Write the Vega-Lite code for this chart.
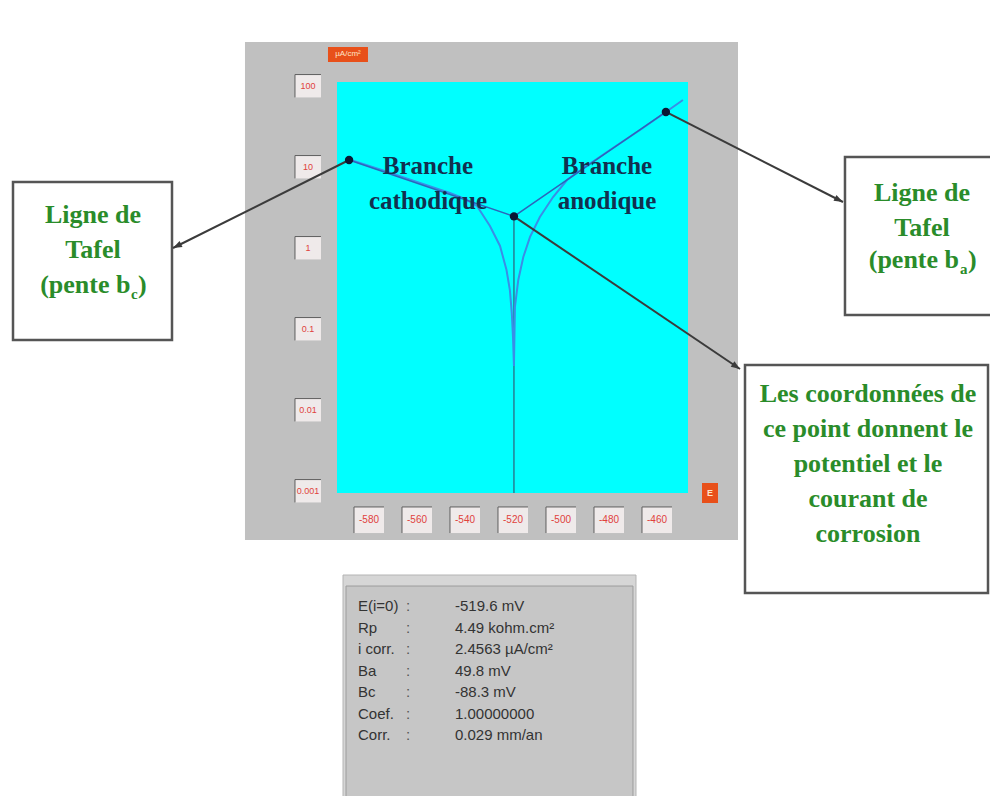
{
  "$schema": "https://vega.github.io/schema/vega-lite/v6.json",
  "width": 351,
  "height": 411,
  "autosize": {"type": "none"},
  "padding": {"left": 337, "top": 82, "right": 302, "bottom": 303},
  "background": "white",
  "config": {"view": {"stroke": null}, "axis": {"disable": true}, "font": "Liberation Sans"},
  "datasets": {
    "polarisation": [
      {"branche": "cathodique", "E": -589.0, "i": 12.6},
      {"branche": "cathodique", "E": -575.4, "i": 9.31},
      {"branche": "cathodique", "E": -558.8, "i": 6.35},
      {"branche": "cathodique", "E": -546.3, "i": 4.78},
      {"branche": "cathodique", "E": -540.0, "i": 4.03},
      {"branche": "cathodique", "E": -535.0, "i": 3.30},
      {"branche": "cathodique", "E": -529.6, "i": 1.87},
      {"branche": "cathodique", "E": -525.4, "i": 1.06},
      {"branche": "cathodique", "E": -522.7, "i": 0.535},
      {"branche": "cathodique", "E": -521.3, "i": 0.303},
      {"branche": "cathodique", "E": -520.5, "i": 0.158},
      {"branche": "cathodique", "E": -520.0, "i": 0.080},
      {"branche": "cathodique", "E": -519.6, "i": 0.035},
      {"branche": "anodique", "E": -519.2, "i": 0.187},
      {"branche": "anodique", "E": -517.8, "i": 0.403},
      {"branche": "anodique", "E": -515.7, "i": 0.774},
      {"branche": "anodique", "E": -512.9, "i": 1.37},
      {"branche": "anodique", "E": -508.8, "i": 2.41},
      {"branche": "anodique", "E": -503.3, "i": 4.26},
      {"branche": "anodique", "E": -497.5, "i": 6.91},
      {"branche": "anodique", "E": -490.0, "i": 10.0},
      {"branche": "anodique", "E": -479.6, "i": 16.2},
      {"branche": "anodique", "E": -467.1, "i": 28.6},
      {"branche": "anodique", "E": -456.3, "i": 47.8},
      {"branche": "anodique", "E": -449.2, "i": 67.2}
    ],
    "tafel": [
      {"point": "cathodique", "E": -588.3, "i": 12.2},
      {"point": "corrosion", "E": -519.6, "i": 2.4563},
      {"point": "anodique", "E": -456.3, "i": 47.8}
    ],
    "ticksE": [
      {"E": -580, "label": "-580"},
      {"E": -560, "label": "-560"},
      {"E": -540, "label": "-540"},
      {"E": -520, "label": "-520"},
      {"E": -500, "label": "-500"},
      {"E": -480, "label": "-480"},
      {"E": -460, "label": "-460"}
    ],
    "ticksI": [
      {"i": 100, "label": "100"},
      {"i": 10, "label": "10"},
      {"i": 1, "label": "1"},
      {"i": 0.1, "label": "0.1"},
      {"i": 0.01, "label": "0.01"},
      {"i": 0.001, "label": "0.001"}
    ]
  },
  "layer": [
    {
      "data": {"values": [{}]},
      "layer": [
        {
          "mark": {"type": "rect", "fill": "#c0c0c0", "clip": false},
          "encoding": {
            "x": {"datum": -631.67, "type": "quantitative", "scale": {"type": "linear", "domain": [-593.33, -447.08], "nice": false, "zero": false}, "axis": null},
            "x2": {"datum": -426.25},
            "y": {"datum": 349.4, "type": "quantitative", "scale": {"type": "log", "domain": [0.000945, 112], "nice": false}, "axis": null},
            "y2": {"datum": 0.00024837}
          }
        },
        {
          "mark": {"type": "rect", "fill": "#00ffff", "clip": false},
          "encoding": {"x": {"datum": -593.33}, "x2": {"datum": -447.08}, "y": {"datum": 112}, "y2": {"datum": 0.000945}}
        },
        {
          "mark": {"type": "rect", "fill": "#d6d6d6", "stroke": "#b4b4b4", "strokeWidth": 1, "clip": false},
          "encoding": {"x": {"datum": -590.83}, "x2": {"datum": -468.75}, "y": {"datum": 9.183e-5}, "y2": {"datum": 1.532e-7}}
        },
        {
          "mark": {"type": "rect", "fill": "#c6c6c6", "stroke": "#9c9c9c", "strokeWidth": 1, "clip": false},
          "encoding": {"x": {"datum": -589.58}, "x2": {"datum": -470.0}, "y": {"datum": 6.7163e-5}, "y2": {"datum": 1.532e-7}}
        },
        {
          "mark": {"type": "rect", "fill": "white", "stroke": "#555555", "strokeWidth": 2.5, "clip": false},
          "encoding": {"x": {"datum": -728.33}, "x2": {"datum": -662.08}, "y": {"datum": 6.529}, "y2": {"datum": 0.07313}}
        },
        {
          "mark": {"type": "rect", "fill": "white", "stroke": "#555555", "strokeWidth": 2.5, "clip": false},
          "encoding": {"x": {"datum": -381.67}, "x2": {"datum": -317.08}, "y": {"datum": 13.288}, "y2": {"datum": 0.14891}}
        },
        {
          "mark": {"type": "rect", "fill": "white", "stroke": "#555555", "strokeWidth": 2.5, "clip": false},
          "encoding": {"x": {"datum": -423.33}, "x2": {"datum": -322.08}, "y": {"datum": 0.03594}, "y2": {"datum": 5.503e-5}}
        },
        {
          "mark": {"type": "point", "shape": "M-1,-0.375H1V0.375H-1Z", "size": 1600, "filled": true, "color": "#e8501a", "opacity": 1, "clip": false},
          "encoding": {"x": {"datum": -588.75}, "y": {"datum": 244.8}}
        },
        {
          "mark": {"type": "point", "shape": "M-1,-1.25H1V1.25H-1Z", "size": 256, "filled": true, "color": "#e8501a", "opacity": 1, "clip": false},
          "encoding": {"x": {"datum": -437.92}, "y": {"datum": 0.000945}}
        }
      ]
    },
    {
      "data": {"name": "ticksE"},
      "layer": [
        {
          "mark": {"type": "point", "shape": "M-1,-0.87H1V0.87H-1Z", "size": 900, "filled": true, "color": "#efeaea", "opacity": 1, "clip": false},
          "encoding": {"x": {"field": "E", "type": "quantitative"}, "y": {"datum": 0.00043853}}
        },
        {
          "mark": {"type": "point", "shape": "M-1,0.87V-0.87H1", "size": 900, "filled": false, "color": "#5f5f5f", "strokeWidth": 1, "opacity": 1, "clip": false},
          "encoding": {"x": {"field": "E", "type": "quantitative"}, "y": {"datum": 0.00043853}}
        },
        {
          "mark": {"type": "text", "fontSize": 10, "color": "#e0413c", "align": "center", "baseline": "middle", "clip": false},
          "encoding": {"x": {"field": "E", "type": "quantitative"}, "y": {"datum": 0.00043853}, "text": {"field": "label"}}
        }
      ]
    },
    {
      "data": {"name": "ticksI"},
      "layer": [
        {
          "mark": {"type": "point", "shape": "M-1,-0.88H1V0.88H-1Z", "size": 676, "filled": true, "color": "#efeaea", "opacity": 1, "clip": false},
          "encoding": {"x": {"datum": -605.42}, "y": {"field": "i", "type": "quantitative"}}
        },
        {
          "mark": {"type": "point", "shape": "M-1,0.88V-0.88H1", "size": 676, "filled": false, "color": "#5f5f5f", "strokeWidth": 1, "opacity": 1, "clip": false},
          "encoding": {"x": {"datum": -605.42}, "y": {"field": "i", "type": "quantitative"}}
        },
        {
          "mark": {"type": "text", "fontSize": 9, "color": "#e0413c", "align": "center", "baseline": "middle", "clip": false},
          "encoding": {"x": {"datum": -605.42}, "y": {"field": "i", "type": "quantitative"}, "text": {"field": "label"}}
        }
      ]
    },
    {
      "data": {"name": "tafel"},
      "transform": [{"filter": "datum.point === 'corrosion'"}],
      "mark": {"type": "rule", "color": "#2f5f78", "strokeWidth": 1.2, "clip": false},
      "encoding": {"x": {"field": "E", "type": "quantitative"}, "y": {"field": "i", "type": "quantitative"}, "y2": {"datum": 0.000945}}
    },
    {
      "data": {"name": "polarisation"},
      "mark": {"type": "line", "color": "#3a8ee6", "strokeWidth": 2, "clip": false},
      "encoding": {
        "x": {"field": "E", "type": "quantitative", "scale": {"type": "linear", "domain": [-593.33, -447.08], "nice": false, "zero": false}, "axis": null},
        "y": {"field": "i", "type": "quantitative", "scale": {"type": "log", "domain": [0.000945, 112], "nice": false}, "axis": null}
      }
    },
    {
      "data": {"name": "tafel"},
      "mark": {"type": "line", "color": "#2c66bb", "strokeWidth": 1.5, "clip": false},
      "encoding": {"x": {"field": "E", "type": "quantitative"}, "y": {"field": "i", "type": "quantitative"}}
    },
    {
      "data": {"values": [{}]},
      "layer": [
        {
          "mark": {"type": "rule", "color": "#3b3b3b", "strokeWidth": 2, "clip": false},
          "encoding": {"x": {"datum": -588.3}, "y": {"datum": 12.2}, "x2": {"datum": -661.67}, "y2": {"datum": 1.0}}
        },
        {
          "mark": {"type": "rule", "color": "#3b3b3b", "strokeWidth": 2, "clip": false},
          "encoding": {"x": {"datum": -456.3}, "y": {"datum": 47.8}, "x2": {"datum": -382.5}, "y2": {"datum": 3.6978}}
        },
        {
          "mark": {"type": "rule", "color": "#3b3b3b", "strokeWidth": 2, "clip": false},
          "encoding": {"x": {"datum": -519.6}, "y": {"datum": 2.4563}, "x2": {"datum": -425.42}, "y2": {"datum": 0.03208}}
        },
        {
          "mark": {"type": "point", "shape": "M0,0L-0.55,1.5L0.55,1.5Z", "size": 144, "filled": true, "color": "#3b3b3b", "opacity": 1, "angle": 243.4, "clip": false},
          "encoding": {"x": {"datum": -661.67}, "y": {"datum": 1.0}}
        },
        {
          "mark": {"type": "point", "shape": "M0,0L-0.55,1.5L0.55,1.5Z", "size": 144, "filled": true, "color": "#3b3b3b", "opacity": 1, "angle": 117, "clip": false},
          "encoding": {"x": {"datum": -382.5}, "y": {"datum": 3.6978}}
        },
        {
          "mark": {"type": "point", "shape": "M0,0L-0.55,1.5L0.55,1.5Z", "size": 144, "filled": true, "color": "#3b3b3b", "opacity": 1, "angle": 124.4, "clip": false},
          "encoding": {"x": {"datum": -425.42}, "y": {"datum": 0.03208}}
        },
        {
          "mark": {"type": "text", "text": ["Branche", "cathodique"], "lineHeight": 35, "font": "Liberation Serif", "fontWeight": "bold", "fontSize": 25, "color": "#12304f", "align": "center", "baseline": "alphabetic", "clip": false},
          "encoding": {"x": {"datum": -555.42}, "y": {"datum": 8.196}}
        },
        {
          "mark": {"type": "text", "text": ["Branche", "anodique"], "lineHeight": 35, "font": "Liberation Serif", "fontWeight": "bold", "fontSize": 25, "color": "#12304f", "align": "center", "baseline": "alphabetic", "clip": false},
          "encoding": {"x": {"datum": -480.83}, "y": {"datum": 8.196}}
        },
        {
          "mark": {"type": "text", "text": ["Ligne de", "Tafel"], "lineHeight": 35, "font": "Liberation Serif", "fontWeight": "bold", "fontSize": 26, "color": "#2a8c2a", "align": "center", "baseline": "alphabetic", "clip": false},
          "encoding": {"x": {"datum": -695}, "y": {"datum": 2.0353}}
        },
        {
          "mark": {"type": "text", "text": "(pente b", "font": "Liberation Serif", "fontWeight": "bold", "fontSize": 26, "color": "#2a8c2a", "align": "right", "dx": 37.5, "baseline": "alphabetic", "clip": false},
          "encoding": {"x": {"datum": -695}, "y": {"datum": 0.27826}}
        },
        {
          "mark": {"type": "text", "text": "c", "font": "Liberation Serif", "fontWeight": "bold", "fontSize": 15, "color": "#2a8c2a", "align": "left", "dx": 38, "dy": 6, "baseline": "alphabetic", "clip": false},
          "encoding": {"x": {"datum": -695}, "y": {"datum": 0.27826}}
        },
        {
          "mark": {"type": "text", "text": ")", "font": "Liberation Serif", "fontWeight": "bold", "fontSize": 26, "color": "#2a8c2a", "align": "left", "dx": 45, "baseline": "alphabetic", "clip": false},
          "encoding": {"x": {"datum": -695}, "y": {"datum": 0.27826}}
        },
        {
          "mark": {"type": "text", "text": ["Ligne de", "Tafel"], "lineHeight": 35, "font": "Liberation Serif", "fontWeight": "bold", "fontSize": 26, "color": "#2a8c2a", "align": "center", "baseline": "alphabetic", "clip": false},
          "encoding": {"x": {"datum": -349.58}, "y": {"datum": 3.8046}}
        },
        {
          "mark": {"type": "text", "text": "(pente b", "font": "Liberation Serif", "fontWeight": "bold", "fontSize": 26, "color": "#2a8c2a", "align": "right", "dx": 37, "baseline": "alphabetic", "clip": false},
          "encoding": {"x": {"datum": -349.58}, "y": {"datum": 0.56626}}
        },
        {
          "mark": {"type": "text", "text": "a", "font": "Liberation Serif", "fontWeight": "bold", "fontSize": 15, "color": "#2a8c2a", "align": "left", "dx": 38, "dy": 6, "baseline": "alphabetic", "clip": false},
          "encoding": {"x": {"datum": -349.58}, "y": {"datum": 0.56626}}
        },
        {
          "mark": {"type": "text", "text": ")", "font": "Liberation Serif", "fontWeight": "bold", "fontSize": 26, "color": "#2a8c2a", "align": "left", "dx": 46, "baseline": "alphabetic", "clip": false},
          "encoding": {"x": {"datum": -349.58}, "y": {"datum": 0.56626}}
        },
        {
          "mark": {"type": "text", "text": ["Les coordonnées de", "ce point donnent le", "potentiel et le", "courant de", "corrosion"], "lineHeight": 35, "font": "Liberation Serif", "fontWeight": "bold", "fontSize": 26, "color": "#2a8c2a", "align": "center", "baseline": "alphabetic", "clip": false},
          "encoding": {"x": {"datum": -372.08}, "y": {"datum": 0.012558}}
        },
        {
          "mark": {"type": "text", "text": ["E(i=0)", "Rp", "i corr.", "Ba", "Bc", "Coef.", "Corr."], "lineHeight": 21.5, "fontSize": 15, "color": "#333333", "align": "left", "baseline": "alphabetic", "clip": false},
          "encoding": {"x": {"datum": -584.58}, "y": {"datum": 3.3001e-5}}
        },
        {
          "mark": {"type": "text", "text": [":", ":", ":", ":", ":", ":", ":"], "lineHeight": 21.5, "fontSize": 15, "color": "#555555", "align": "left", "baseline": "alphabetic", "clip": false},
          "encoding": {"x": {"datum": -564.58}, "y": {"datum": 3.3001e-5}}
        },
        {
          "mark": {"type": "text", "text": ["-519.6 mV", "4.49 kohm.cm²", "2.4563 µA/cm²", "\u2007\u200749.8 mV", "\u2008-88.3 mV", "1.00000000", "0.029 mm/an"], "lineHeight": 21.5, "fontSize": 15, "color": "#333333", "align": "left", "baseline": "alphabetic", "clip": false},
          "encoding": {"x": {"datum": -544.17}, "y": {"datum": 3.3001e-5}}
        },
        {
          "mark": {"type": "text", "text": "µA/cm²", "fontSize": 8, "color": "#ffe4c8", "align": "center", "baseline": "middle", "clip": false},
          "encoding": {"x": {"datum": -588.75}, "y": {"datum": 244.8}}
        },
        {
          "mark": {"type": "text", "text": "E", "fontSize": 9, "fontWeight": "bold", "color": "#ffe4c8", "align": "center", "baseline": "middle", "clip": false},
          "encoding": {"x": {"datum": -437.92}, "y": {"datum": 0.000945}}
        }
      ]
    },
    {
      "data": {"name": "tafel"},
      "mark": {"type": "point", "filled": true, "size": 70, "color": "#0a1733", "opacity": 1, "clip": false},
      "encoding": {"x": {"field": "E", "type": "quantitative"}, "y": {"field": "i", "type": "quantitative"}}
    }
  ]
}
